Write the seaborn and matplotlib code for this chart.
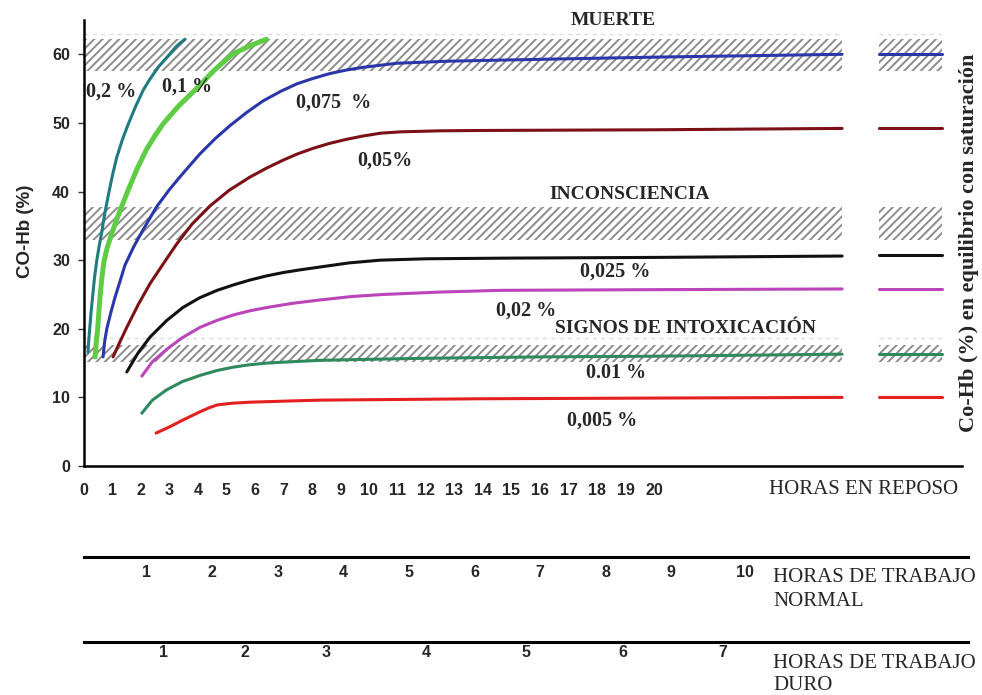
import pandas as pd
import seaborn as sns
import matplotlib.pyplot as plt

# concentraciones de CO en el aire y color de cada curva
conc = ["0,2 %", "0,1 %", "0,075  %", "0,05%", "0,025 %", "0,02 %", "0.01 %", "0,005 %"]
colores = ["#1f7b80", "#5fcc45", "#2b37a8", "#7b1016", "#111111", "#bb44bb", "#2e8a5c", "#e3201f"]

h_02 = [0.14, 0.17, 0.2, 0.25, 0.3, 0.37, 0.45, 0.53, 0.62, 0.72, 0.85, 1.0, 1.15, 1.35,
        1.55, 1.8, 2.08, 2.3, 2.6, 3.0, 3.25, 3.54]
co_02 = [16.6, 18.5, 20, 22.5, 24.6, 27.5, 30, 32, 34, 36.6, 39.4, 42.4, 45, 47.6,
         49.8, 52.3, 54.8, 56.3, 58.1, 60, 61.2, 62.2]

h_01 = [0.39, 0.43, 0.48, 0.56, 0.63, 0.7, 0.8, 0.92, 1.05, 1.28, 1.53, 1.85, 2.2, 2.5, 2.8,
        3.35, 3.95, 4.55, 5.2, 5.8, 6.4]
co_01 = [15.9, 18, 20, 24.6, 27.5, 29.8, 31.6, 33.2, 34.8, 37.4, 40, 43.2, 46.2, 48.2, 50,
         52.6, 55, 57.6, 60, 61.2, 62.2]

h_0075 = [0.67, 0.72, 0.8, 0.95, 1.09, 1.27, 1.44, 1.75, 2.07, 2.55, 3.0, 3.4, 4.07, 4.6,
          5.12, 5.7, 6.28, 6.9, 7.47, 8.05, 8.63, 9.2, 9.79, 10.98, 12.8, 16.4, 20.2, 26.6]
co_0075 = [15.9, 18, 20, 22.5, 24.6, 27, 29.3, 32, 34.4, 37.8, 40.3, 42.3, 45.5, 47.7,
           49.6, 51.5, 53.2, 54.6, 55.7, 56.5, 57.2, 57.7, 58.1, 58.7, 59.0, 59.3, 59.6, 60.0]

h_005 = [1.02, 1.25, 1.5, 1.9, 2.32, 2.77, 3.26, 3.8, 4.42, 5.1, 5.82, 6.4, 7.0, 7.5,
         8.04, 8.6, 9.2, 9.8, 10.4, 11.1, 12.5, 14, 20, 26.6]
co_005 = [15.9, 18, 20.2, 23.5, 26.6, 29.4, 32.4, 35.3, 37.9, 40.2, 42.1, 43.4, 44.6, 45.5,
          46.3, 47, 47.6, 48.1, 48.5, 48.7, 48.85, 48.9, 49.0, 49.2]

h_0025 = [1.5, 1.9, 2.32, 2.9, 3.47, 4.05, 4.67, 5.25, 5.82, 6.4, 7.0, 7.6, 8.28, 9.3,
          10.4, 12, 15, 20, 26.6]
co_0025 = [13.7, 16.5, 18.8, 21.2, 23.1, 24.5, 25.6, 26.4, 27.1, 27.7, 28.2, 28.6, 29.0, 29.6,
           30.0, 30.2, 30.3, 30.4, 30.6]

h_002 = [2.03, 2.4, 2.9, 3.45, 4.07, 4.65, 5.23, 5.8, 6.42, 7.3, 8.28, 9.4, 10.5, 12.5,
         14.6, 20, 26.6]
co_002 = [13.1, 15.2, 17.0, 18.7, 20.2, 21.2, 22.0, 22.6, 23.1, 23.7, 24.2, 24.7, 25.0, 25.35,
          25.6, 25.7, 25.8]

h_001 = [2.03, 2.4, 2.9, 3.45, 4.07, 4.65, 5.23, 5.8, 6.42, 7.3, 8.28, 10, 12, 16, 20, 26.6]
co_001 = [7.7, 9.6, 11.1, 12.3, 13.2, 13.9, 14.4, 14.75, 15.0, 15.2, 15.4, 15.55, 15.7, 15.9,
          16.0, 16.3]

h_0005 = [2.53, 3.0, 3.47, 4.07, 4.4, 4.67, 5.2, 5.82, 7, 8.28, 14, 20, 26.6]
co_0005 = [4.8, 5.7, 6.7, 7.9, 8.5, 8.9, 9.15, 9.3, 9.45, 9.6, 9.8, 9.9, 10.0]

# CO-Hb en equilibrio con saturacion (tramo a la derecha)
tramo_eq = [27.9, 30.1]
co_eq = [None, None, 60.1, 49.3, 30.7, 25.8, 16.3, 10.0]

# zonas: muerte, inconsciencia, signos de intoxicacion
zonas = ["MUERTE", "INCONSCIENCIA", "SIGNOS DE INTOXICACIÓN"]
zona_min = [57.6, 33.0, 15.1]
zona_max = [62.2, 37.7, 17.6]

# escalas equivalentes (hora de trabajo -> horas en reposo)
trabajo_normal = [1, 2, 3, 4, 5, 6, 7, 8, 9, 10]
normal_en_reposo = [2.2, 4.5, 6.8, 9.1, 11.4, 13.7, 16.0, 18.3, 20.6, 23.2]
trabajo_duro = [1, 2, 3, 4, 5, 6, 7]
duro_en_reposo = [2.8, 5.65, 8.5, 12.0, 15.5, 18.9, 22.4]
horas_reposo = list(range(0, 21))

curvas = [(h_02, co_02), (h_01, co_01), (h_0075, co_0075), (h_005, co_005),
          (h_0025, co_0025), (h_002, co_002), (h_001, co_001), (h_0005, co_0005)]
df = pd.concat([pd.DataFrame({"horas": h, "cohb": c, "conc": n})
                for (h, c), n in zip(curvas, conc)], ignore_index=True)

sns.set_style("white")
plt.rcParams["font.family"] = ["Liberation Sans", "DejaVu Sans"]
plt.rcParams["hatch.linewidth"] = 1.4
serif = ["Liberation Serif", "DejaVu Serif"]

W, H = 982, 695
fig = plt.figure(figsize=(W / 100, H / 100), dpi=100)
ax = fig.add_axes([84 / W, 1 - 466 / H, 878 / W, 446 / H])
ax.set_xlim(0, 878 / 28.5)
ax.set_ylim(0, 65)

# bandas rayadas
for lo, hi in zip(zona_min, zona_max):
    for x0, x1 in [(0, 26.6), (27.9, 30.1)]:
        ax.fill_between([x0, x1], lo, hi, facecolor="none", edgecolor="#8c8c8c",
                        hatch="////", linewidth=0, zorder=1)
for yy in [63.0, 18.6]:
    ax.plot([0, 26.6], [yy, yy], color="#dedede", lw=1, ls=(0, (3, 3)), zorder=1)
    ax.plot([27.9, 30.1], [yy, yy], color="#dedede", lw=1, ls=(0, (3, 3)), zorder=1)

for n, col, eq in zip(conc, colores, co_eq):
    lw = 3.6 if n == "0,1 %" else 2.2
    sub = df[df["conc"] == n]
    sns.lineplot(data=sub, x="horas", y="cohb", color=col, lw=lw, ax=ax,
                 estimator=None, sort=False, zorder=3, solid_joinstyle="round")
    if eq is not None:
        sns.lineplot(x=tramo_eq, y=[eq, eq], color=col, lw=lw, ax=ax, zorder=3)

ax.set_xlabel("")
ax.set_ylabel("")
sns.despine(ax=ax)
for s in ["left", "bottom"]:
    ax.spines[s].set_linewidth(1.8)
    ax.spines[s].set_color("black")

ax.set_yticks([0, 10, 20, 30, 40, 50, 60])
ax.set_xticks(horas_reposo)
ax.tick_params(axis="y", left=True, length=4, width=1, pad=6, labelsize=11.5, color="#333333")
ax.tick_params(axis="x", bottom=False, length=0, pad=12, labelsize=11.5)
for lbl in ax.get_xticklabels() + ax.get_yticklabels():
    lbl.set_fontweight("bold")

# etiquetas de curvas
txt = dict(family=serif, fontsize=14.5, fontweight="bold", va="center", ha="left")
pos_curvas = [(0.07, 54.6), (2.74, 55.3), (7.45, 53.0), (9.6, 44.5),
              (17.4, 28.4), (14.45, 22.7), (17.6, 13.5), (16.95, 6.6)]
for n, (px, py) in zip(conc, pos_curvas):
    ax.text(px, py, n, **txt)

pos_zonas = [(18.55, 64.9), (19.15, 39.5), (21.1, 20.0)]
for z, (px, py) in zip(zonas, pos_zonas):
    ax.text(px, py, z, family=serif, fontsize=14, fontweight="bold", ha="center",
            va="center", clip_on=False)

# escalas de trabajo normal y duro
for ypx, pos, lab, pad in [(557, normal_en_reposo, trabajo_normal, 6),
                           (642, duro_en_reposo, trabajo_duro, 2)]:
    a2 = fig.add_axes([84 / W, 1 - ypx / H, 884 / W, 0.0001])
    a2.set_xlim(0, 884 / 28.5)
    a2.set_yticks([])
    for s in ["top", "left", "right"]:
        a2.spines[s].set_visible(False)
    a2.spines["bottom"].set_linewidth(2.2)
    a2.spines["bottom"].set_color("black")
    a2.set_xticks(pos)
    a2.set_xticklabels(lab, fontweight="bold")
    a2.tick_params(axis="x", bottom=False, length=0, pad=pad, labelsize=11.5)
    a2.patch.set_alpha(0)

fig.text(25 / W, 1 - 231 / H, "CO-Hb (%)", rotation=90, ha="center", va="center",
         fontsize=13.5, fontweight="bold")
fig.text(969 / W, 1 - 243 / H, "Co-Hb (%) en equilibrio con saturación", rotation=90,
         ha="center", va="center", family=serif, fontsize=16, fontweight="bold")

lab = dict(family=serif, fontsize=15, ha="left", va="center")
fig.text(769 / W, 1 - 490 / H, "HORAS EN REPOSO", **lab)
fig.text(773 / W, 1 - 578 / H, "HORAS DE TRABAJO", **lab)
fig.text(773 / W, 1 - 601 / H, "NORMAL", **lab)
fig.text(773 / W, 1 - 663 / H, "HORAS DE TRABAJO", **lab)
fig.text(773 / W, 1 - 686 / H, "DURO", **lab)

plt.savefig("out.png", dpi=100)
plt.close()
